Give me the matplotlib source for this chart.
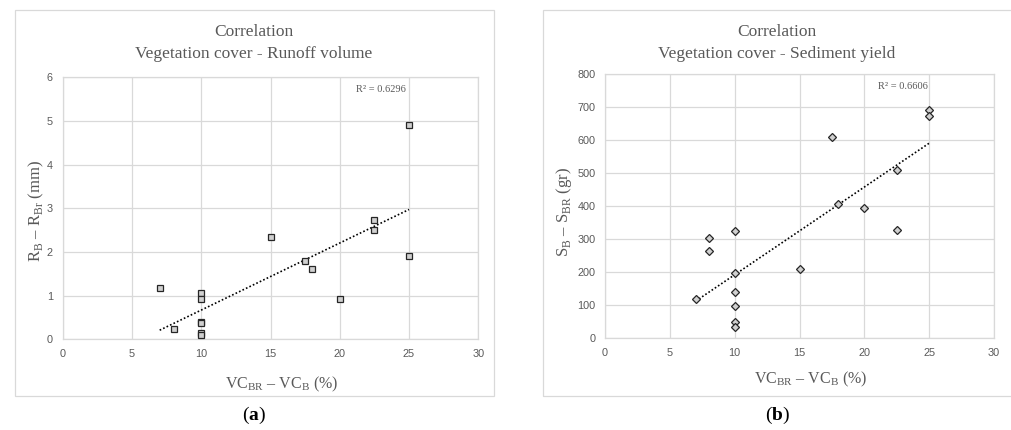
import numpy as np
import matplotlib.pyplot as plt
from matplotlib.patches import Rectangle

plt.rcParams['mathtext.fontset'] = 'custom'
plt.rcParams['mathtext.rm'] = 'Liberation Serif'
plt.rcParams['mathtext.bf'] = 'Liberation Serif:bold'

# Datos
vc_runoff = [7, 8, 10, 10, 10, 10, 10, 10, 15, 17.5, 18, 20, 22.5, 22.5, 25, 25]
runoff = [1.17, 0.23, 1.05, 0.93, 0.40, 0.37, 0.14, 0.09, 2.34, 1.79, 1.60, 0.93, 2.73, 2.50, 4.90, 1.90]

vc_sed = [7, 8, 8, 10, 10, 10, 10, 10, 10, 15, 17.5, 18, 20, 22.5, 22.5, 25, 25]
sediment = [120, 305, 263, 324, 197, 140, 97, 48, 34, 209, 610, 408, 394, 510, 329, 692, 674]

titulos = ["Correlation\nVegetation cover - Runoff volume",
           "Correlation\nVegetation cover - Sediment yield"]
r2_textos = ["R² = 0.6296", "R² = 0.6606"]
etiquetas_y = [r"R$_{\mathrm{B}}$ – R$_{\mathrm{Br}}$ (mm)",
               r"S$_{\mathrm{B}}$ – S$_{\mathrm{BR}}$ (gr)"]
etiqueta_x = r"VC$_{\mathrm{BR}}$ – VC$_{\mathrm{B}}$ (%)"

gris = '#595959'
rejilla = '#d9d9d9'
serif = 'Liberation Serif'
W, H = 1011, 430


def px(x0, y0, x1, y1):
    # rectángulo en píxeles -> fracciones de figura
    return [x0 / W, 1 - y1 / H, (x1 - x0) / W, (y1 - y0) / H]


def preparar(ax, ymax, ystep):
    ax.set_xlim(0, 30)
    ax.set_ylim(0, ymax)
    ax.set_xticks(np.arange(0, 31, 5))
    ax.set_yticks(np.arange(0, ymax + ystep / 2, ystep))
    ax.grid(True, color=rejilla, lw=0.9)
    ax.set_axisbelow(True)
    for s in ax.spines.values():
        s.set_color(rejilla)
        s.set_linewidth(0.9)
    ax.tick_params(length=0, labelsize=7.8, labelcolor=gris, pad=7)
    for lab in ax.get_xticklabels() + ax.get_yticklabels():
        lab.set_fontfamily('Liberation Sans')


def tendencia(ax, x, y):
    x = np.array(x)
    m, b = np.polyfit(x, y, 1)
    xs = np.array([x.min(), x.max()])
    ax.plot(xs, m * xs + b, color='black', lw=1.2, ls=(0, (1, 1.3)), zorder=3)


fig = plt.figure(figsize=(W / 100, H / 100), dpi=100)

# marcos del área de gráfico
fig.patches.append(Rectangle((15 / W, 1 - 396 / H), 479 / W, 386 / H, transform=fig.transFigure,
                             fill=False, ec=rejilla, lw=0.9))
fig.patches.append(Rectangle((543 / W, 1 - 396 / H), 480 / W, 386 / H, transform=fig.transFigure,
                             fill=False, ec=rejilla, lw=0.9))

# (a) escorrentía
ax1 = fig.add_axes(px(62.7, 77.3, 478.3, 339.3))
preparar(ax1, 6, 1)
ax1.plot(vc_runoff, runoff, ls='none', marker='s', ms=4.6, mfc='#d0d0d0', mec='#262626', mew=0.9, zorder=4)
tendencia(ax1, vc_runoff, runoff)
ax1.text(21.2, 5.71, r2_textos[0], fontsize=7.5, color=gris, family=serif, va='center')
ax1.set_ylabel(etiquetas_y[0], fontsize=12, color=gris, family=serif)
ax1.yaxis.set_label_coords(-0.04, 0.49)
ax1.set_xlabel(etiqueta_x, fontsize=11.5, color=gris, family=serif)
ax1.xaxis.set_label_coords(0.526, -0.135)

# (b) sedimentos
ax2 = fig.add_axes(px(605, 74, 994, 338.3))
preparar(ax2, 800, 100)
ax2.plot(vc_sed, sediment, ls='none', marker='D', ms=3.6, mfc='#d0d0d0', mec='#262626', mew=0.9, zorder=4)
tendencia(ax2, vc_sed, sediment)
ax2.text(21.05, 761, r2_textos[1], fontsize=7.5, color=gris, family=serif, va='center')
ax2.set_ylabel(etiquetas_y[1], fontsize=12, color=gris, family=serif)
ax2.yaxis.set_label_coords(-0.08, 0.48)
ax2.set_xlabel(etiqueta_x, fontsize=11.5, color=gris, family=serif)
ax2.xaxis.set_label_coords(0.53, -0.12)

# títulos
fig.text(254 / W, 1 - 43 / H, titulos[0], ha='center', va='center', fontsize=12.5,
         color=gris, family=serif, linespacing=1.45)
fig.text(777 / W, 1 - 43 / H, titulos[1], ha='center', va='center', fontsize=12.5,
         color=gris, family=serif, linespacing=1.45)

# (a) y (b)
fig.text(254 / W, 1 - 415 / H, r"($\mathbf{a}$)", ha='center', va='center', fontsize=14, family=serif)
fig.text(778 / W, 1 - 415 / H, r"($\mathbf{b}$)", ha='center', va='center', fontsize=14, family=serif)

fig.savefig('out.png', dpi=100)
